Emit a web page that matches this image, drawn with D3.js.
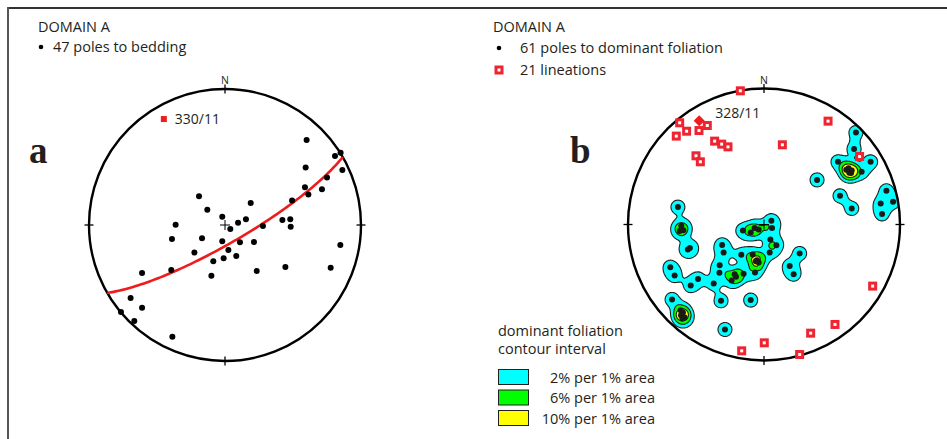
<!DOCTYPE html>
<html><head><meta charset="utf-8">
<script src="https://cdn.jsdelivr.net/npm/d3@7"></script>
<style>body{margin:0;background:#fff}svg{display:block}text{font-family:"Open Sans","Noto Sans",sans-serif;fill:#231f20}</style>
</head><body><svg id="c" width="947" height="439"></svg>
<script>
// ---- data (net coordinates: x = east, y = north, primitive radius = 1) ----
const beddingPoles = [
[0.600,0.625],[0.809,0.507],[0.850,0.532],[0.863,0.404],[0.593,0.422],[0.750,0.350],[0.588,0.277],
[0.613,0.225],[0.713,0.262],[0.493,0.181],[0.422,0.037],[0.480,0.042],[0.483,-0.012],[0.279,-0.007],
[0.189,0.162],[0.154,0.042],[0.096,0.017],[0.039,-0.029],[-0.020,0.061],[-0.191,0.211],[-0.130,0.113],
[-0.363,0.002],[-0.390,-0.103],[-0.169,-0.098],[-0.020,-0.120],[0.110,-0.127],[0.213,-0.125],[-0.225,-0.203],
[0.025,-0.184],[-0.010,-0.245],[0.083,-0.228],[-0.086,-0.267],[-0.100,-0.373],[0.233,-0.338],[0.444,-0.309],
[0.777,-0.314],[0.848,-0.147],[-0.610,-0.353],[-0.395,-0.331],[-0.694,-0.537],[-0.610,-0.608],[-0.765,-0.640],
[-0.667,-0.706],[-0.387,-0.821]
];
const beddingBeta = {trend:330, plunge:11, label:"330/11"};

const foliationPoles = [
[0.676,0.676],[0.662,0.556],[0.544,0.461],[0.784,0.461],
[0.605,0.402],[0.627,0.380],[0.645,0.397],[0.622,0.414],[0.640,0.378],[0.718,0.387],
[0.390,0.328],[0.559,0.211],[0.645,0.118],[0.900,0.248],[0.858,0.154],[0.949,0.167],[0.868,0.078],
[-0.633,0.128],[-0.608,-0.010],[-0.593,-0.042],[-0.620,-0.047],[-0.545,-0.172],[-0.560,-0.184],
[-0.308,-0.150],[-0.297,-0.206],[-0.155,-0.045],[-0.098,-0.059],[-0.069,-0.025],[-0.039,-0.037],
[0.054,0.027],[0.059,-0.025],[0.047,-0.110],[0.091,-0.152],[0.042,-0.206],[-0.083,-0.221],[-0.167,-0.223],
[-0.051,-0.262],[-0.039,-0.279],[-0.060,-0.270],[-0.326,-0.299],[-0.328,-0.355],[-0.216,-0.365],[-0.206,-0.385],
[-0.238,-0.412],[-0.150,-0.363],[-0.066,-0.353],[-0.370,-0.434],[-0.485,-0.400],[-0.539,-0.449],
[-0.689,-0.314],[-0.657,-0.375],[0.189,-0.306],[0.218,-0.365],[0.262,-0.213],
[-0.316,-0.561],[-0.098,-0.556],[-0.676,-0.551],
[-0.613,-0.630],[-0.596,-0.647],[-0.610,-0.667],[-0.583,-0.684],[-0.600,-0.691],[-0.287,-0.772]
];
const lineations = [
[-0.174,0.983],[-0.620,0.748],[-0.569,0.686],[-0.645,0.650],[-0.478,0.691],[-0.417,0.728],
[-0.363,0.613],[-0.311,0.591],[-0.265,0.571],[-0.500,0.505],[-0.468,0.461],[0.135,0.586],
[0.471,0.760],[0.703,0.500],[0.799,-0.453],[0.522,-0.735],[0.343,-0.799],[0.002,-0.870],
[-0.164,-0.929],[0.262,-0.956]
];
const lineationMean = {trend:328, plunge:11, label:"328/11"};

const contourLevels = [2, 6, 10];
const contourColors = ["#00ffff", "#00ff00", "#ffff00"];
const contourLabels = ["2% per 1% area", "6% per 1% area", "10% per 1% area"];

// ---- drawing ----
const svg = d3.select("#c");
const R = 136;
const FS = 14.5;
const nets = [{cx:225, cy:225}, {cx:764, cy:224.5}];

// frame
svg.append("line").attr("x1",8).attr("x2",947).attr("y1",8).attr("y2",8).attr("stroke","#333").attr("stroke-width",2);
svg.append("line").attr("x1",8).attr("x2",8).attr("y1",7).attr("y2",439).attr("stroke","#555").attr("stroke-width",2);

function eqArea(trend, plunge){
  const r = Math.SQRT2*Math.sin((90-plunge)/2*Math.PI/180);
  const t = trend*Math.PI/180;
  return [r*Math.sin(t), r*Math.cos(t)];
}

function makeNet(n){
  const x = d3.scaleLinear().domain([-1,1]).range([n.cx-R, n.cx+R]);
  const y = d3.scaleLinear().domain([-1,1]).range([n.cy+R, n.cy-R]);
  const g = svg.append("g");
  return {x, y, g};
}
function frameNet(net, n){
  const g = net.g;
  g.append("circle").attr("cx",n.cx).attr("cy",n.cy).attr("r",R).attr("fill","none").attr("stroke","#000").attr("stroke-width",2.4);
  const tk = 4.5;
  [[0,-1],[0,1],[-1,0],[1,0]].forEach(([dx,dy])=>{
    const px = n.cx+dx*R, py = n.cy+dy*R;
    if(dx===0) g.append("line").attr("x1",px).attr("x2",px).attr("y1",py-tk).attr("y2",py+tk).attr("stroke","#000").attr("stroke-width",1.3);
    else g.append("line").attr("x1",px-tk).attr("x2",px+tk).attr("y1",py).attr("y2",py).attr("stroke","#000").attr("stroke-width",1.3);
  });
  g.append("text").attr("x",n.cx).attr("y",n.cy-R-5).attr("text-anchor","middle").attr("font-size",10.5).text("N");
  g.append("path").attr("d",`M${n.cx-5},${n.cy}h10M${n.cx},${n.cy-5}v10`).attr("stroke","#000").attr("stroke-width",1);
}

// ===== Net a =====
const A = makeNet(nets[0]);
frameNet(A, nets[0]);
(function(){
  const d2r = Math.PI/180;
  const tp = beddingBeta.trend*d2r, pp = beddingBeta.plunge*d2r;
  const s = [Math.sin(tp+Math.PI/2), Math.cos(tp+Math.PI/2), 0];
  const dd = tp+Math.PI, dip = Math.PI/2-pp;
  const d = [Math.cos(dip)*Math.sin(dd), Math.cos(dip)*Math.cos(dd), Math.sin(dip)];
  const pts = d3.range(0,181,2).map(a=>{
    const ph=a*d2r;
    const v=[Math.cos(ph)*s[0]+Math.sin(ph)*d[0], Math.cos(ph)*s[1]+Math.sin(ph)*d[1], Math.cos(ph)*s[2]+Math.sin(ph)*d[2]];
    const pl = Math.asin(Math.min(1,Math.max(-1,v[2])))/d2r;
    const tr = Math.atan2(v[0],v[1])/d2r;
    return eqArea(tr,pl);
  });
  A.g.append("path").attr("d", d3.line().x(p=>A.x(p[0])).y(p=>A.y(p[1]))(pts))
    .attr("fill","none").attr("stroke","#ee1c1c").attr("stroke-width",2.6);
})();
A.g.selectAll("circle.pt").data(beddingPoles).join("circle").attr("class","pt")
  .attr("cx",d=>A.x(d[0])).attr("cy",d=>A.y(d[1])).attr("r",3).attr("fill","#000");
{
  const p = eqArea(beddingBeta.trend, beddingBeta.plunge);
  A.g.append("rect").attr("x",A.x(p[0])-3).attr("y",A.y(p[1])-3).attr("width",6).attr("height",6).attr("fill","#ee1c1c");
  A.g.append("text").attr("x",A.x(p[0])+11).attr("y",A.y(p[1])+5).attr("font-size",14).text(beddingBeta.label);
}

// ===== Net b =====
const B = makeNet(nets[1]);
(function(){
  const step = 0.008;
  const lo = -1.06, n = Math.ceil(2.12/step);
  const c = 9.54/R, P = 2.9, e = 3.2, cut = 2.4*c;
  const vals = new Float64Array(n*n);
  for(let j=0;j<n;j++){
    const yy = -(lo + (j+0.5)*step);
    for(let i=0;i<n;i++){
      const xx = lo + (i+0.5)*step;
      let s=0;
      for(const p of foliationPoles){
        const dx=xx-p[0], dy=yy-p[1];
        if(Math.abs(dx)>cut||Math.abs(dy)>cut) continue;
        const q=Math.sqrt(dx*dx+dy*dy)/c;
        s+=P*Math.exp(-Math.pow(q,e));
      }
      vals[j*n+i]=s;
    }
  }
  const conts = d3.contours().size([n,n]).thresholds(contourLevels)(Array.from(vals));
  const tr = d3.geoTransform({point(X,Y){ this.stream.point(B.x(lo+X*step), B.y(-(lo+Y*step))); }});
  const path = d3.geoPath(tr);
  svg.append("clipPath").attr("id","clipB").append("circle").attr("cx",nets[1].cx).attr("cy",nets[1].cy).attr("r",R);
  B.g.append("g").attr("clip-path","url(#clipB)").selectAll("path").data(conts).join("path")
    .attr("d",path).attr("fill",(d,i)=>contourColors[i]).attr("stroke","#231f20").attr("stroke-width",1.1);
})();
frameNet(B, nets[1]);
B.g.selectAll("circle.pt").data(foliationPoles).join("circle").attr("class","pt")
  .attr("cx",d=>B.x(d[0])).attr("cy",d=>B.y(d[1])).attr("r",3).attr("fill","#1a1a1a");
function lineationMark(g, px, py){
  g.append("rect").attr("x",px-4.5).attr("y",py-4.5).attr("width",9).attr("height",9).attr("fill","#ee2431");
  g.append("rect").attr("x",px-1.5).attr("y",py-1.5).attr("width",3).attr("height",3).attr("fill","#fff");
}
lineations.forEach(d=>lineationMark(B.g, B.x(d[0]), B.y(d[1])));
{
  const p = eqArea(lineationMean.trend, lineationMean.plunge);
  const px=B.x(p[0]), py=B.y(p[1]);
  B.g.append("path").attr("d",`M${px},${py-5.5}L${px+5.5},${py}L${px},${py+5.5}L${px-5.5},${py}Z`).attr("fill","#ee1c1c");
  B.g.append("text").attr("x",px+16).attr("y",py-3).attr("font-size",14).text(lineationMean.label);
}

// ===== texts =====
svg.append("text").attr("x",38).attr("y",32).attr("font-size",FS).text("DOMAIN A");
svg.append("circle").attr("cx",41).attr("cy",47).attr("r",2.3).attr("fill","#000");
svg.append("text").attr("x",53).attr("y",52).attr("font-size",FS).text("47 poles to bedding");

svg.append("text").attr("x",493).attr("y",32).attr("font-size",FS).text("DOMAIN A");
svg.append("circle").attr("cx",499).attr("cy",48).attr("r",2.3).attr("fill","#000");
svg.append("text").attr("x",520).attr("y",53).attr("font-size",FS).text("61 poles to dominant foliation");
lineationMark(svg, 499, 70);
svg.append("text").attr("x",520).attr("y",75).attr("font-size",FS).text("21 lineations");

svg.append("text").attr("x",29).attr("y",163).attr("font-size",37).attr("font-weight","bold")
  .style("font-family","'Liberation Serif','DejaVu Serif',serif").text("a");
svg.append("text").attr("x",570).attr("y",163).attr("font-size",37).attr("font-weight","bold")
  .style("font-family","'Liberation Serif','DejaVu Serif',serif").text("b");

svg.append("text").attr("x",498).attr("y",335.5).attr("font-size",FS).text("dominant foliation");
svg.append("text").attr("x",498).attr("y",353.5).attr("font-size",FS).text("contour interval");
contourLabels.forEach((t,i)=>{
  svg.append("rect").attr("x",498.5).attr("y",369.5+i*20.5).attr("width",30).attr("height",15)
    .attr("fill",contourColors[i]).attr("stroke","#231f20").attr("stroke-width",1);
  svg.append("text").attr("x",655).attr("y",382.5+i*20.5).attr("text-anchor","end").attr("font-size",FS).text(t);
});
</script></body></html>
